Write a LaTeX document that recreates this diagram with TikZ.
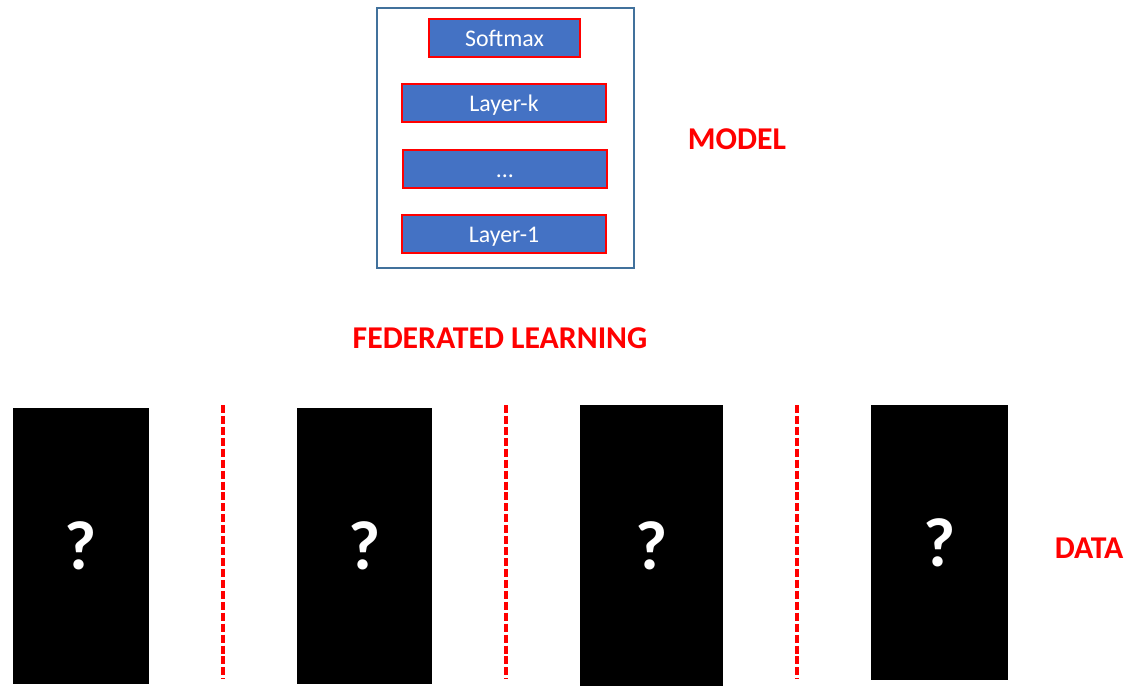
\documentclass[tikz,border=0pt]{standalone}
\usepackage{fontspec}
\setmainfont{Carlito}
\definecolor{layerblue}{HTML}{4472C4}
\definecolor{framecol}{HTML}{41719C}
\definecolor{fred}{HTML}{FF0000}
\begin{document}
\begin{tikzpicture}[x=0.75pt,y=-0.75pt,
  layer/.style={draw=fred,line width=1.6pt,fill=layerblue,text=white,font=\fontsize{17.9}{21}\selectfont,text height=13pt,text depth=1pt},
  databox/.style={fill=black,text=white,font=\bfseries\fontsize{52}{60}\selectfont},
  sep/.style={draw=fred,line width=2.4pt,dash pattern=on 6pt off 2.2pt},
  lbl/.style={text=fred,font=\bfseries\fontsize{23.8}{28}\selectfont}]
\useasboundingbox (0,0) rectangle (1141,692);
% model frame
\draw[framecol,line width=1.2pt] (377,8) rectangle (634,268);
\node[layer,minimum width=151*0.75pt,minimum height=38*0.75pt,inner sep=0pt] (soft) at (504.5,38) {Softmax};
\node[layer,minimum width=204*0.75pt,minimum height=38*0.75pt,inner sep=0pt] (lk) at (504,103) {Layer-k};
\node[layer,minimum width=204*0.75pt,minimum height=38*0.75pt,inner sep=0pt] (ld) at (505,169) {...};
\node[layer,minimum width=204*0.75pt,minimum height=38*0.75pt,inner sep=0pt] (l1) at (504,234) {Layer-1};
\node[lbl] (model) at (737,139) {MODEL};
\node[lbl] (fl) at (500,338) {FEDERATED LEARNING};
\node[lbl] (data) at (1089,548) {DATA};
% data boxes
\node[databox,minimum width=136*0.75pt,minimum height=276*0.75pt,inner sep=0pt] (d1) at (81,546) {?};
\node[databox,minimum width=135*0.75pt,minimum height=276*0.75pt,inner sep=0pt] (d2) at (364.5,546) {?};
\node[databox,minimum width=143*0.75pt,minimum height=281*0.75pt,inner sep=0pt] (d3) at (651.5,545.5) {?};
\node[databox,minimum width=137*0.75pt,minimum height=275*0.75pt,inner sep=0pt] (d4) at (939.5,542.5) {?};
% separators
\coordinate (s1a) at (223,405); \coordinate (s1b) at (223,679);
\coordinate (s2a) at (506,405); \coordinate (s2b) at (506,679);
\coordinate (s3a) at (797,405); \coordinate (s3b) at (797,679);
\draw[sep] (s1a) -- (s1b);
\draw[sep] (s2a) -- (s2b);
\draw[sep] (s3a) -- (s3b);
\end{tikzpicture}
\end{document}
